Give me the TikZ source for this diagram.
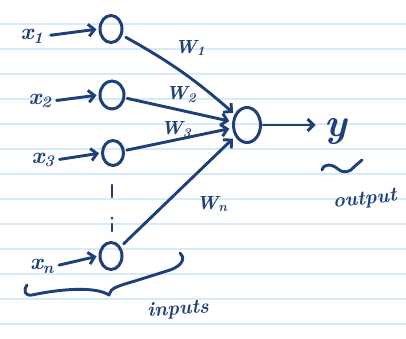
\documentclass[tikz,border=0pt]{standalone}
\usepackage{fontspec}
\usetikzlibrary{arrows.meta,shapes.geometric}
\definecolor{ink}{HTML}{1E3F7A}
\definecolor{ruling}{HTML}{D6EAF8}
\newcommand{\sym}[2]{\textit{#1}\textsubscript{#2}}
\tikzset{
  neuron/.style={ellipse, draw=ink, line width=3pt, inner sep=0pt,
    minimum width=22pt, minimum height=27pt},
  lbl/.style={text=ink, inner sep=1pt},
  hand/.style={font=\bfseries\itshape\fontsize{#1}{#1}\selectfont},
  wire/.style={draw=ink, line width=2.9pt, line cap=round,
    -{Straight Barb[length=6pt,width=12pt]}},
  pen/.style={draw=ink, line width=2.9pt, line cap=round, line join=round},
}
\begin{document}
\begin{tikzpicture}[x=1pt,y=-1pt]
\useasboundingbox (0,0) rectangle (406,338);
\fill[white] (0,0) rectangle (406,338);
% ruled paper
\foreach \yy in {24,49,...,324}
  \draw[ruling, line width=1.1pt] (0,\yy) -- (406,\yy);

% input neurons and output neuron
\node[neuron] (n1) at (111,29) {};
\node[neuron, minimum width=24pt, minimum height=28pt] (n2) at (112,95) {};
\node[neuron, minimum width=21pt, minimum height=25pt] (n3) at (113,153) {};
\node[neuron] (nn) at (111,256) {};
\node[neuron, minimum width=27pt, minimum height=35pt] (out) at (247,125) {};

% input labels
\node[lbl, hand=23] (l1) at (32,36) {\sym{x}{1}};
\node[lbl, hand=23] (l2) at (40,101) {\sym{x}{2}};
\node[lbl, hand=23] (l3) at (43,160) {\sym{x}{3}};
\node[lbl, hand=23] (ln) at (42,266) {\sym{x}{n}};

\draw[wire, shorten <=6pt, shorten >=2pt] (l1.east) -- (n1.west);
\draw[wire, shorten <=4pt, shorten >=2pt] (l2.east) -- (n2.west);
\draw[wire, shorten <=4pt, shorten >=2pt] (l3.east) -- (n3.west);
\draw[wire, shorten <=4pt, shorten >=2pt] (ln.east) -- (nn.west);

% vertical ellipsis between x3 and xn
\draw[pen] (112,185) -- (112,197);
\draw[pen] (112,224) -- (112,231);
\fill[ink] (112,218) circle (1.5pt);

% weighted connections
\draw[wire, bend left=6, shorten <=4pt, shorten >=2pt] (n1) to (out);
\draw[wire, shorten <=2pt, shorten >=3pt] (n2) to (out);
\draw[wire, shorten <=2pt, shorten >=3pt] (n3) to (out);
\draw[wire, shorten <=4pt, shorten >=3pt] (nn) to (out);

% weight labels
\node[lbl, hand=19] (w1) at (190,48) {\sym{W}{1}};
\node[lbl, hand=19] (w2) at (181,95) {\sym{W}{2}};
\node[lbl, hand=19] (w3) at (176,130) {\sym{W}{3}};
\node[lbl, hand=19] (wn) at (212,204) {\sym{W}{n}};

% output
\node[lbl, hand=40] (y) at (336,131) {y};
\draw[wire, shorten <=1pt, shorten >=8pt] (out.east) -- (out.east -| y.west);
\draw[pen] (322,170) .. controls (324,163) and (332,164) .. (338,169)
  .. controls (344,174) and (350,172) .. (354,167)
  .. controls (357,164) and (360,162) .. (362,160);
\node[lbl, hand=20, rotate=6] (outtxt) at (365,200) {output};

% brace under the inputs
\draw[pen] (27,285) .. controls (23,291) and (25,296) .. (32,295)
  .. controls (60,289) and (95,286) .. (109,295)
  .. controls (110,288) and (118,286) .. (135,281)
  -- (170,270)
  .. controls (184,265) and (185,257) .. (180,253);
\node[lbl, hand=20, rotate=4] (intxt) at (178,310) {inputs};
\end{tikzpicture}
\end{document}
